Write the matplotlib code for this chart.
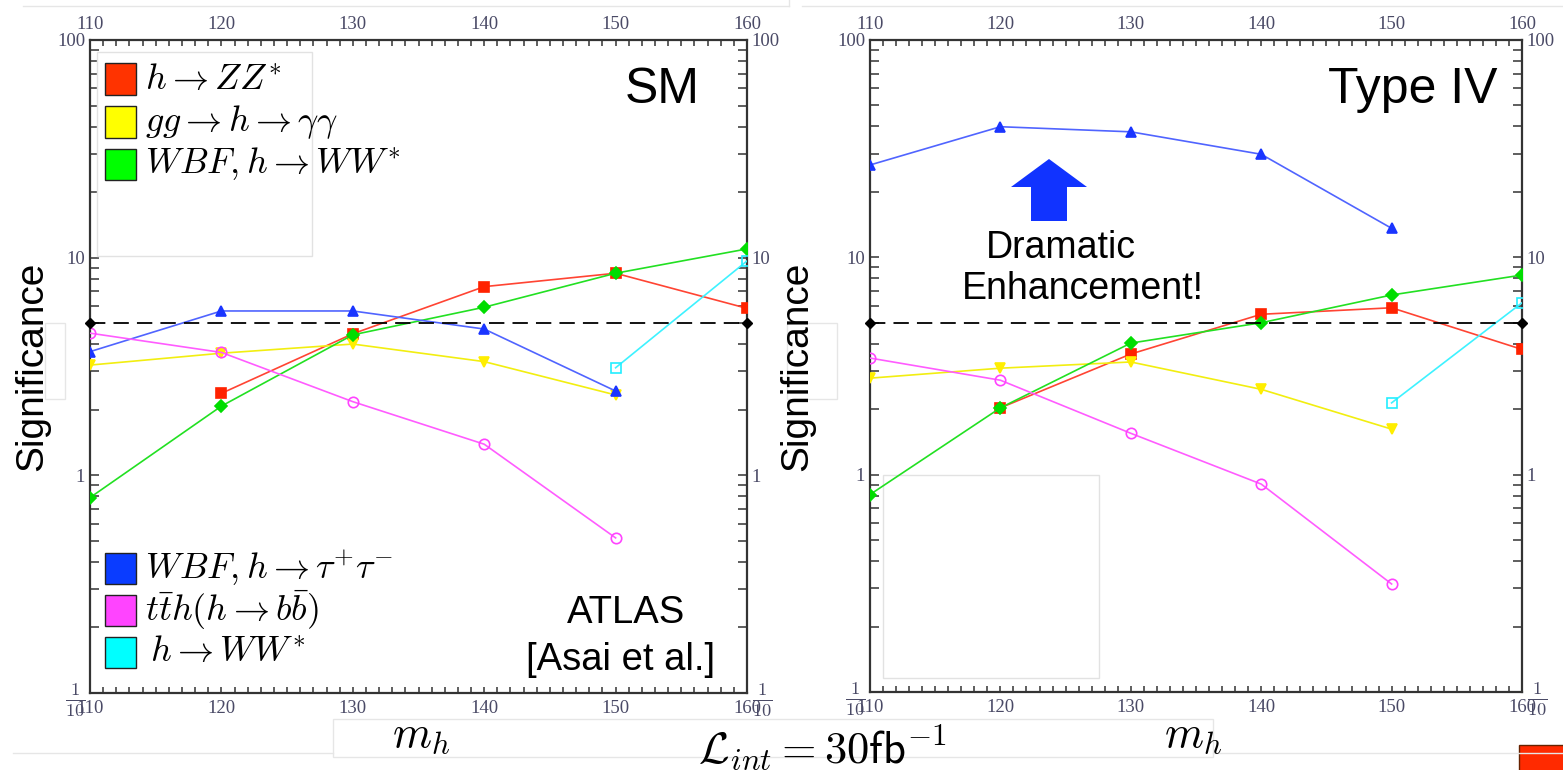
import numpy as np
import matplotlib
matplotlib.use("Agg")
import matplotlib.pyplot as plt
from matplotlib.patches import Rectangle, Polygon
from matplotlib.lines import Line2D
from matplotlib.ticker import FixedLocator, FixedFormatter, MultipleLocator, NullFormatter

plt.rcParams["mathtext.fontset"] = "cm"
plt.rcParams["font.family"] = ["Liberation Sans", "DejaVu Sans"]

# Higgs mass points (GeV)
mass = [110, 120, 130, 140, 150, 160]
nan = np.nan

# Expected significance with 30 fb^-1, Standard Model
sm_zz = [nan, 2.38, 4.47, 7.36, 8.48, 5.85]
sm_gamgam = [3.21, 3.64, 4.01, 3.33, 2.34, nan]
sm_wbf_ww = [0.79, 2.08, 4.42, 5.92, 8.48, 10.97]
sm_wbf_tautau = [3.70, 5.69, 5.69, 4.70, 2.44, nan]
sm_tth_bb = [4.50, 3.67, 2.18, 1.39, 0.516, nan]
sm_ww = [nan, nan, nan, nan, 3.12, 9.66]

# Expected significance with 30 fb^-1, Type IV two-Higgs-doublet model
t4_zz = [nan, 2.03, 3.59, 5.47, 5.86, 3.77]
t4_gamgam = [2.78, 3.09, 3.30, 2.47, 1.62, nan]
t4_wbf_ww = [0.81, 2.03, 4.03, 5.00, 6.71, 8.29]
t4_wbf_tautau = [26.6, 39.9, 37.8, 29.8, 13.6, nan]
t4_tth_bb = [3.44, 2.72, 1.55, 0.905, 0.314, nan]
t4_ww = [nan, nan, nan, nan, 2.14, 6.18]

discovery_mass = [110, 160]
discovery_level = [5, 5]

channel_labels = [
    r"$h \rightarrow ZZ^{*}$",
    r"$gg \rightarrow h \rightarrow \gamma\gamma$",
    r"$WBF, h \rightarrow WW^{*}$",
    r"$WBF, h \rightarrow \tau^{+}\tau^{-}$",
    r"$t\bar{t}h(h \rightarrow b\bar{b})$",
    r"$\,h \rightarrow WW^{*}$",
]
swatch_colors = ["#ff3300", "#ffff00", "#00ff00", "#0a3cff", "#ff44ff", "#00ffff"]
line_colors = ["#ff4433", "#f2ee10", "#22e022", "#5064ff", "#ff5cff", "#3ef2ff"]
marker_colors = ["#ff2200", "#ffee00", "#00dd00", "#1a35ff", "#ff44ff", "#22eeff"]
markers = ["s", "v", "D", "^", "o", "s"]
marker_sizes = [6.5, 7, 6, 7, 7.5, 7.5]
hollow = [False, False, False, False, True, True]

sm_series = [sm_zz, sm_gamgam, sm_wbf_ww, sm_wbf_tautau, sm_tth_bb, sm_ww]
t4_series = [t4_zz, t4_gamgam, t4_wbf_ww, t4_wbf_tautau, t4_tth_bb, t4_ww]

W, H = 1563, 770
fig = plt.figure(figsize=(W / 100, H / 100), dpi=100)


def px_axes(x0, y0, x1, y1):
    return fig.add_axes([x0 / W, 1 - y1 / H, (x1 - x0) / W, (y1 - y0) / H])


ax_sm = px_axes(90, 40, 747, 693)
ax_t4 = px_axes(870, 40, 1522, 692)

tick_color = "#333333"
label_color = "#4a4a66"


def style_axes(ax, series):
    ax.set_yscale("log")
    ax.set_xlim(110, 160)
    ax.set_ylim(0.1, 100)
    for s in ax.spines.values():
        s.set_color(tick_color)
        s.set_linewidth(1.6)

    for i, vals in enumerate(series):
        y = np.array(vals, dtype=float)
        ax.plot(mass, y, color=line_colors[i], lw=1.2, marker=markers[i],
                ms=marker_sizes[i], mec=marker_colors[i],
                mfc="none" if hollow[i] else marker_colors[i],
                mew=1.2, zorder=3)

    ax.plot(discovery_mass, discovery_level, color="black", lw=1.3,
            dashes=(8.5, 4.5), marker="D", ms=5, clip_on=False, zorder=4)

    ax.xaxis.set_major_locator(MultipleLocator(10))
    ax.xaxis.set_minor_locator(MultipleLocator(1))
    ax.yaxis.set_major_locator(FixedLocator([0.1, 1, 10, 100]))
    ax.yaxis.set_major_formatter(FixedFormatter([r"$\frac{1}{10}$", "1", "10", "100"]))
    minor = [m * 10.0 ** e for e in (-1, 0, 1) for m in range(2, 10)]
    ax.yaxis.set_minor_locator(FixedLocator(minor))
    ax.yaxis.set_minor_formatter(NullFormatter())

    ax.tick_params(axis="x", which="both", direction="in", top=True, bottom=True,
                   labeltop=True, labelbottom=True, length=4.5, width=1.1,
                   color=tick_color, pad=5)
    ax.tick_params(axis="y", which="both", direction="in", left=True, right=True,
                   labelleft=True, labelright=True, length=6.5, width=1.1,
                   color=tick_color, pad=3.5)
    for lbl in ax.get_xticklabels() + ax.get_yticklabels():
        lbl.set_fontfamily("Liberation Serif")
        lbl.set_fontsize(13.5)
        lbl.set_color(label_color)
    # the 1/10 fraction labels are drawn larger so the stacked digits stay legible
    for tick in ax.yaxis.get_major_ticks()[:1]:
        tick.label1.set_fontsize(19)
        tick.label2.set_fontsize(19)
    ax.set_ylabel("Significance", fontsize=28, color="black")


style_axes(ax_sm, sm_series)
style_axes(ax_t4, t4_series)
ax_sm.yaxis.set_label_coords(-0.061, 0.5)
ax_t4.yaxis.set_label_coords(-0.084, 0.5)


def legend_entry(ax, x_px, y_px, idx, ax_px):
    """Colour swatch plus label, positioned in pixel units of the axes box."""
    x0, y0, x1, y1 = ax_px
    w, h = x1 - x0, y1 - y0
    sw = 31
    ax.add_patch(Rectangle(((x_px - x0) / w, (y1 - y_px - sw / 2) / h), sw / w, sw / h,
                           transform=ax.transAxes, facecolor=swatch_colors[idx],
                           edgecolor="#222222", lw=1.0, zorder=5))
    ax.text((x_px + 40 - x0) / w, (y1 - y_px) / h, channel_labels[idx],
            transform=ax.transAxes, fontsize=26, va="center", ha="left", zorder=5)


sm_box = (90, 40, 747, 693)
t4_box = (870, 40, 1522, 692)

# upper legend frame (left panel)
ax_sm.add_patch(Rectangle(((97 - 90) / 657, (693 - 256) / 653), 215 / 657, 204 / 653,
                          transform=ax_sm.transAxes, facecolor="white",
                          edgecolor="#e2e2e2", lw=1.0, zorder=4))
for idx, yc in zip([0, 1, 2], [79, 122, 164]):
    legend_entry(ax_sm, 105, yc, idx, sm_box)
for idx, yc in zip([3, 4, 5], [568, 610, 652]):
    legend_entry(ax_sm, 105, yc, idx, sm_box)

# empty legend frame (right panel)
ax_t4.add_patch(Rectangle(((883 - 870) / 652, (692 - 678) / 652), 216 / 652, 203 / 652,
                          transform=ax_t4.transAxes, facecolor="white",
                          edgecolor="#e2e2e2", lw=1.0, zorder=2))

# panel titles and annotations
ax_sm.text((700 - 90) / 657, (693 - 103) / 653, "SM", transform=ax_sm.transAxes,
           fontsize=36, ha="right", va="baseline")
ax_t4.text((1497 - 870) / 652, (692 - 103) / 652, "Type IV", transform=ax_t4.transAxes,
           fontsize=36, ha="right", va="baseline")
ax_sm.text((626 - 90) / 657, (693 - 623) / 653, "ATLAS", transform=ax_sm.transAxes,
           fontsize=27.5, ha="center", va="baseline", zorder=6)
ax_sm.text((621 - 90) / 657, (693 - 670) / 653, "[Asai et al.]", transform=ax_sm.transAxes,
           fontsize=27.5, ha="center", va="baseline", zorder=6)
ax_t4.text((1061 - 870) / 652, (692 - 258) / 652, "Dramatic", transform=ax_t4.transAxes,
           fontsize=27, ha="center", va="baseline")
ax_t4.text((1083 - 870) / 652, (692 - 299) / 652, "Enhancement!", transform=ax_t4.transAxes,
           fontsize=27, ha="center", va="baseline")

arrow_px = [(1049, 159), (1087, 187), (1067, 187), (1067, 221),
            (1031, 221), (1031, 187), (1011, 187)]
ax_t4.add_patch(Polygon([((x - 870) / 652, (692 - y) / 652) for x, y in arrow_px],
                        closed=True, transform=ax_t4.transAxes,
                        facecolor="#1133ff", edgecolor="none", zorder=5))

# faint frame lines around the figure
faint = "#e6e6e6"
fig.add_artist(Line2D([23 / W, 789 / W], [1 - 6 / H] * 2, color=faint, lw=1))
fig.add_artist(Line2D([789 / W, 789 / W], [1, 1 - 6 / H], color=faint, lw=1))
fig.add_artist(Line2D([802 / W, 1], [1 - 6 / H] * 2, color=faint, lw=1))
fig.add_artist(Line2D([13 / W, 333 / W], [1 - 753 / H] * 2, color=faint, lw=1))
fig.add_artist(Line2D([1213 / W, 1], [1 - 753 / H] * 2, color=faint, lw=1))
fig.add_artist(Rectangle((333 / W, 1 - 757 / H), 880 / W, 38 / H, facecolor="none",
                         edgecolor=faint, lw=1, transform=fig.transFigure))
fig.add_artist(Rectangle((45 / W, 1 - 399 / H), 20 / W, 76 / H, facecolor="none",
                         edgecolor=faint, lw=1, transform=fig.transFigure, zorder=0))
fig.add_artist(Rectangle((787 / W, 1 - 399 / H), 50 / W, 76 / H, facecolor="none",
                         edgecolor=faint, lw=1, transform=fig.transFigure, zorder=0))
fig.add_artist(Rectangle((1519 / W, 1 - 772 / H), 46 / W, 27 / H, facecolor="#ff2a00",
                         edgecolor="#662200", lw=1, transform=fig.transFigure))

# axis titles along the bottom
fig.text(421 / W, 1 - 746 / H, r"$m_h$", fontsize=32, ha="center", va="baseline")
fig.text(1193 / W, 1 - 746 / H, r"$m_h$", fontsize=32, ha="center", va="baseline")
fig.text(822 / W, 1 - 762 / H, r"$\mathcal{L}_{int} = 30\mathsf{fb}^{-1}$",
         fontsize=32, ha="center", va="baseline")

fig.savefig("out.png", dpi=100, facecolor="white")
